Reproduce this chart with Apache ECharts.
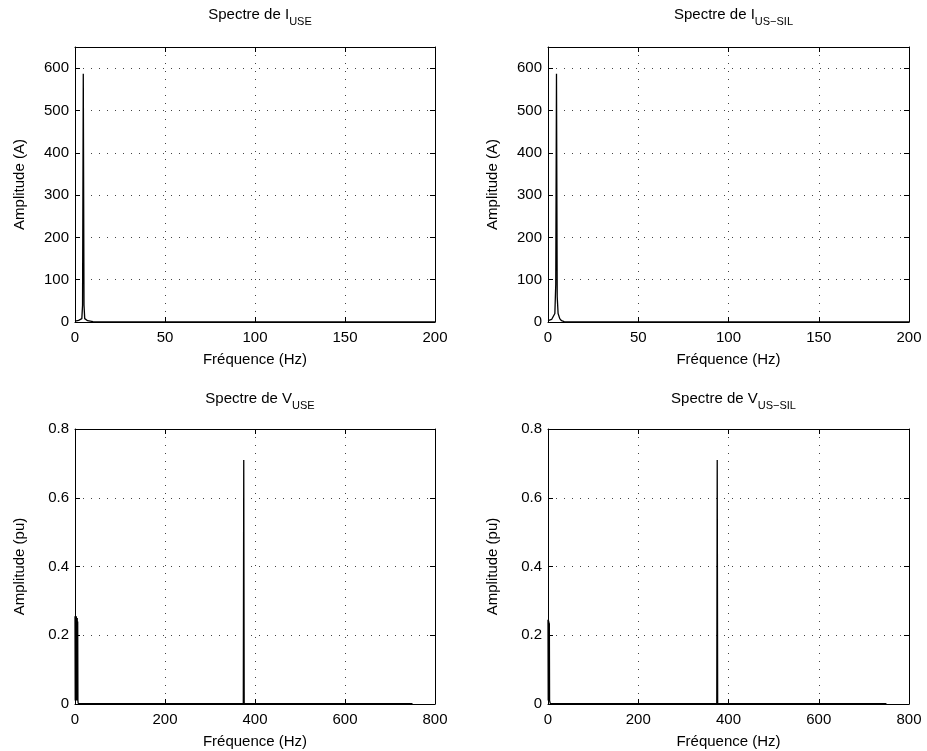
<!DOCTYPE html>
<html><head><meta charset="utf-8">
<script src="https://cdn.jsdelivr.net/npm/echarts@6/dist/echarts.min.js"></script>
<style>html,body{margin:0;padding:0;background:#fff}#c{width:927px;height:751px}</style>
</head><body><div id="c"></div>
<script>
// Spectrum of I_USE
var freqI1 = [0, 1, 2, 3, 3.8, 4.2, 4.6, 5.0, 5.4, 6, 7, 8, 10, 15, 200];
var ampI1  = [2, 3, 4, 5, 8, 40, 587, 40, 8, 5, 3, 2, 1, 0.5, 0.3];
// Spectrum of I_US-SIL
var freqI2 = [0, 1, 2, 3, 3.8, 4.3, 4.7, 5.1, 5.6, 6.5, 7.5, 9, 15, 200];
var ampI2  = [3, 4, 6, 10, 20, 90, 587, 60, 20, 8, 3, 1, 0.5, 0.3];
// Spectrum of V_USE
var freqV1 = [0, 0.5, 1, 1.5, 2, 2.5, 3, 3.5, 4, 4.5, 5, 5.5, 6, 6.5, 7, 10, 374, 375, 376, 750];
var ampV1  = [0.255, 0.01, 0.255, 0.01, 0.255, 0.01, 0.255, 0.01, 0.25, 0.01, 0.25, 0.01, 0.24, 0.01, 0.002, 0.001, 0.001, 0.71, 0.001, 0.001];
// Spectrum of V_US-SIL
var freqV2 = [0, 0.5, 1, 1.5, 2, 2.5, 3, 3.5, 4, 5, 10, 374, 375, 376, 750];
var ampV2  = [0.245, 0.01, 0.245, 0.01, 0.24, 0.01, 0.235, 0.01, 0.01, 0.002, 0.001, 0.001, 0.71, 0.001, 0.001];

var xTicksI = {min: 0, max: 200, interval: 50};
var yTicksI = {min: 0, max: 650, interval: 100};
var xTicksV = {min: 0, max: 800, interval: 200};
var yTicksV = {min: 0, max: 0.8, interval: 0.2};

var titles = [
  ['Spectre de I', 'USE'], ['Spectre de I', 'US\u2212SIL'],
  ['Spectre de V', 'USE'], ['Spectre de V', 'US\u2212SIL']
];
var yNames = ['Amplitude (A)', 'Amplitude (A)', 'Amplitude (pu)', 'Amplitude (pu)'];
var xName = 'Fréquence (Hz)';

var FONT = 'Liberation Sans';
var grids = [
  {left: 75, top: 47, width: 360, height: 275},
  {left: 548, top: 47, width: 361, height: 275},
  {left: 75, top: 429, width: 360, height: 275},
  {left: 548, top: 429, width: 361, height: 275}
];
var sets = [
  {f: freqI1, a: ampI1, x: xTicksI, y: yTicksI},
  {f: freqI2, a: ampI2, x: xTicksI, y: yTicksI},
  {f: freqV1, a: ampV1, x: xTicksV, y: yTicksV},
  {f: freqV2, a: ampV2, x: xTicksV, y: yTicksV}
];
function pairs(f, a) { return f.map(function (v, i) { return [v, a[i]]; }); }

var xAxes = [], yAxes = [], series = [], titleArr = [];
var axisLine = {show: true, onZero: false, lineStyle: {color: '#000', width: 1}};
var tick = {show: true, inside: true, length: 5, lineStyle: {color: '#000'}};
var split = {show: true, lineStyle: {color: '#444', type: [1, 7], width: 1}};
var lab = {color: '#000', fontFamily: FONT, fontSize: 15};

sets.forEach(function (s, i) {
  var g = grids[i];
  xAxes.push({type: 'value', gridIndex: i, position: 'bottom', min: s.x.min, max: s.x.max, interval: s.x.interval,
    axisLine: axisLine, axisTick: tick, splitLine: split,
    axisLabel: Object.assign({margin: 8}, lab),
    name: xName, nameLocation: 'middle', nameGap: 30,
    nameTextStyle: {color: '#000', fontFamily: FONT, fontSize: 15}});
  xAxes.push({type: 'value', gridIndex: i, position: 'top', min: s.x.min, max: s.x.max, interval: s.x.interval,
    axisLine: axisLine, axisTick: tick, splitLine: {show: false}, axisLabel: {show: false}});
  yAxes.push({type: 'value', gridIndex: i, position: 'left', min: s.y.min, max: s.y.max, interval: s.y.interval,
    axisLine: axisLine, axisTick: tick, splitLine: split,
    axisLabel: Object.assign({margin: 6, showMaxLabel: i < 2 ? false : true}, lab),
    name: yNames[i], nameLocation: 'middle', nameGap: 48,
    nameTextStyle: {color: '#000', fontFamily: FONT, fontSize: 15}});
  yAxes.push({type: 'value', gridIndex: i, position: 'right', min: s.y.min, max: s.y.max, interval: s.y.interval,
    axisLine: axisLine, axisTick: tick, splitLine: {show: false}, axisLabel: {show: false}});
  series.push({type: 'line', xAxisIndex: 2 * i, yAxisIndex: 2 * i, data: pairs(s.f, s.a),
    showSymbol: false, symbol: 'none', lineStyle: {color: '#000', width: 1.3}, clip: true, animation: false});
  titleArr.push({
    text: '{a|' + titles[i][0] + '}{s|' + titles[i][1] + '}',
    left: g.left + g.width / 2, top: i < 2 ? 2 : 386, textAlign: 'center',
    textStyle: {fontWeight: 'normal', rich: {
      a: {fontFamily: FONT, fontSize: 15, fontWeight: 'normal', color: '#000', lineHeight: 17, verticalAlign: 'top'},
      s: {fontFamily: FONT, fontSize: 11, fontWeight: 'normal', color: '#000', lineHeight: 12, padding: [9, 0, 0, 0], verticalAlign: 'top'}
    }}
  });
});

var chart = echarts.init(document.getElementById('c'), null, {renderer: 'canvas'});
chart.setOption({
  animation: false,
  backgroundColor: '#fff',
  title: titleArr,
  grid: grids,
  xAxis: xAxes,
  yAxis: yAxes,
  series: series
});
</script></body></html>
